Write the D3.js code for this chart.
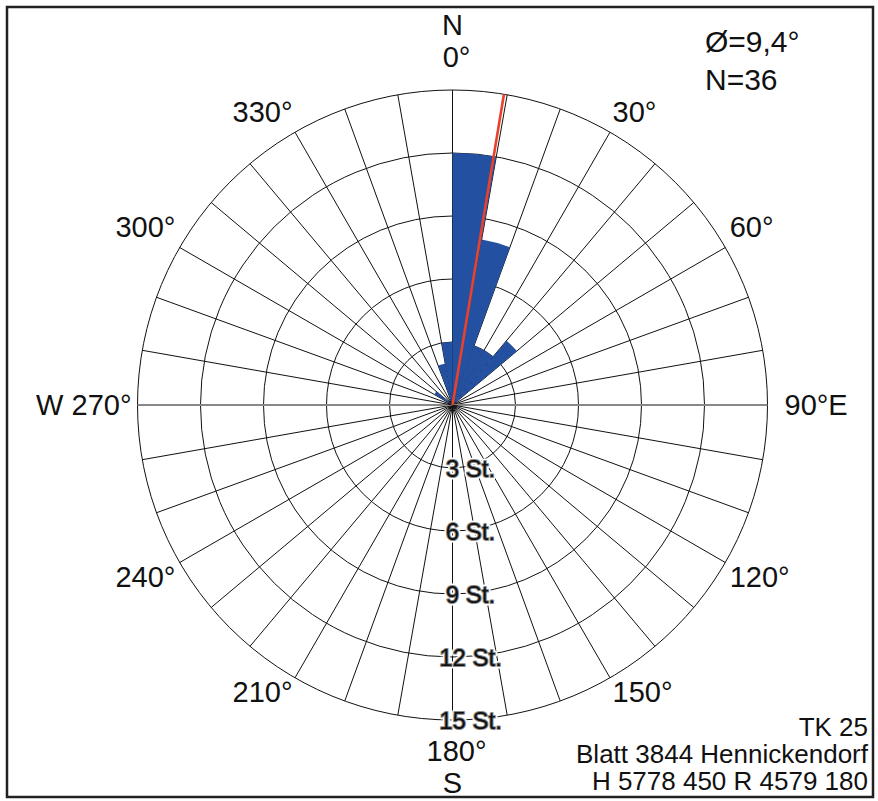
<!DOCTYPE html>
<html>
<head>
<meta charset="utf-8">
<script src="https://cdn.jsdelivr.net/npm/d3@7"></script>
<style>
  body { margin: 0; background: #fff; }
  text { font-family: "Liberation Sans", Arial, sans-serif; fill: #111; }
</style>
</head>
<body>
<div id="chart"></div>
<script>
// 10 degree classes, counts of joints per class (N = 36)
var binStart = d3.range(0, 360, 10);
var counts = [12, 8, 3, 3, 4, 0, 0, 0, 0, 0, 0, 0,
              0, 0, 0, 0, 0, 0, 0, 0, 0, 0, 0, 0,
              0, 0, 0, 0, 0, 0, 1, 0, 0, 0, 2, 3];
var ringValues = [3, 6, 9, 12, 15];
var ringLabels = ["3 St.", "6 St.", "9 St.", "12 St.", "15 St."];
var angleTicks = [0, 30, 60, 90, 120, 150, 180, 210, 240, 270, 300, 330];
var angleLabels = ["0°", "30°", "60°", "90°E", "120°", "150°", "180°", "210°", "240°", "W 270°", "300°", "330°"];
var meanDir = 9.4;
var infoLines = ["Ø=9,4°", "N=36"];
var mapLines = ["TK 25", "Blatt 3844 Hennickendorf", "H 5778 450 R 4579 180"];

var width = 878, height = 801;
var cx = 452.5, cy = 405;

var svg = d3.select("#chart")
  .append("svg")
  .attr("width", width)
  .attr("height", height);

//Frame
svg.append("rect")
  .attr("x", 7).attr("y", 7)
  .attr("width", 866).attr("height", 790)
  .attr("fill", "none")
  .attr("stroke", "#222")
  .attr("stroke-width", 2.5);

var r = d3.scaleLinear().domain([0, 15]).range([0, 315]);
var rad = function(a) { return a * Math.PI / 180; };

var g = svg.append("g").attr("transform", "translate(" + cx + "," + cy + ")");

//Grid: rings and radial lines every 10 degrees
g.selectAll("circle.ring")
  .data(ringValues)
  .enter().append("circle")
    .attr("class", "ring")
    .attr("r", function(d) { return r(d); })
    .attr("fill", "none")
    .attr("stroke", "#111")
    .attr("stroke-width", 1);

g.selectAll("line.spoke")
  .data(binStart)
  .enter().append("line")
    .attr("class", "spoke")
    .attr("x1", 0).attr("y1", 0)
    .attr("x2", function(d) { return r(15) * Math.sin(rad(d)); })
    .attr("y2", function(d) { return -r(15) * Math.cos(rad(d)); })
    .attr("stroke", function(d) { return (d == 90 || d == 270) ? "#888" : "#111"; })
    .attr("stroke-width", function(d) { return (d == 90 || d == 270) ? 2 : 1; });

//Rose sectors
var arc = d3.arc()
  .innerRadius(0)
  .outerRadius(function(d) { return r(d.count); })
  .startAngle(function(d) { return rad(d.start); })
  .endAngle(function(d) { return rad(d.start + 10); });

g.selectAll("path.sector")
  .data(binStart.map(function(s, i) { return {start: s, count: counts[i]}; })
    .filter(function(d) { return d.count > 0; }))
  .enter().append("path")
    .attr("class", "sector")
    .attr("d", arc)
    .attr("fill", "#2350a0");

//Mean direction
g.append("line")
  .attr("x1", 0).attr("y1", 0)
  .attr("x2", r(15) * Math.sin(rad(meanDir)))
  .attr("y2", -r(15) * Math.cos(rad(meanDir)))
  .attr("stroke", "#e8412c")
  .attr("stroke-width", 2.6);

//Ring labels along the south axis
var rl = g.selectAll("g.rlab")
  .data(ringValues)
  .enter().append("g")
    .attr("class", "rlab");
rl.append("text")
  .attr("x", 18)
  .attr("y", function(d) { return r(d); })
  .attr("dy", "0.36em")
  .attr("text-anchor", "middle")
  .attr("font-size", 24)
  .attr("stroke", "#fff")
  .attr("stroke-width", 5)
  .attr("stroke-linejoin", "round")
  .text(function(d, i) { return ringLabels[i]; });
rl.append("text")
  .attr("x", 18)
  .attr("y", function(d) { return r(d); })
  .attr("dy", "0.36em")
  .attr("text-anchor", "middle")
  .attr("font-size", 24)
  .attr("stroke", "#8a8a8a")
  .attr("stroke-width", 2)
  .attr("paint-order", "stroke")
  .attr("stroke-linejoin", "round")
  .text(function(d, i) { return ringLabels[i]; });

//Angle labels: side labels hang off the circle, N/S labels stacked on the axis
var labX = 320, labY = 314, labPad = 18.4;
g.selectAll("text.alab")
  .data(angleTicks)
  .enter().append("text")
    .attr("class", "alab")
    .attr("font-size", 29)
    .attr("text-anchor", function(d) {
      var s = Math.sin(rad(d));
      if (Math.abs(s) < 1e-6) return "middle";
      return s > 0 ? "start" : "end";
    })
    .attr("x", function(d) {
      if (d == 0 || d == 180) return 4;
      if (d == 90) return 332;
      if (d == 270) return -321;
      return labX * Math.sin(rad(d));
    })
    .attr("y", function(d) {
      if (d == 0) return 57 - cy;
      if (d == 180) return 751 - cy;
      if (d == 90 || d == 270) return 0;
      var c = Math.cos(rad(d));
      return -3.5 - (labY * c + labPad * Math.sign(c));
    })
    .attr("dy", "0.36em")
    .text(function(d, i) { return angleLabels[i]; });

g.append("text")
  .attr("x", 0).attr("y", 35 - cy)
  .attr("text-anchor", "middle")
  .attr("font-size", 29)
  .text("N");
g.append("text")
  .attr("x", 0).attr("y", 793 - cy)
  .attr("text-anchor", "middle")
  .attr("font-size", 29)
  .text("S");

//Statistics, top right
svg.selectAll("text.info")
  .data(infoLines)
  .enter().append("text")
    .attr("class", "info")
    .attr("x", 705)
    .attr("y", function(d, i) { return 52 + i * 38; })
    .attr("font-size", 30)
    .text(function(d) { return d; });

//Map sheet, bottom right
svg.selectAll("text.map")
  .data(mapLines)
  .enter().append("text")
    .attr("class", "map")
    .attr("x", 868)
    .attr("y", function(d, i) { return 736 + i * 27; })
    .attr("text-anchor", "end")
    .attr("font-size", 26)
    .text(function(d) { return d; });
</script>
</body>
</html>
